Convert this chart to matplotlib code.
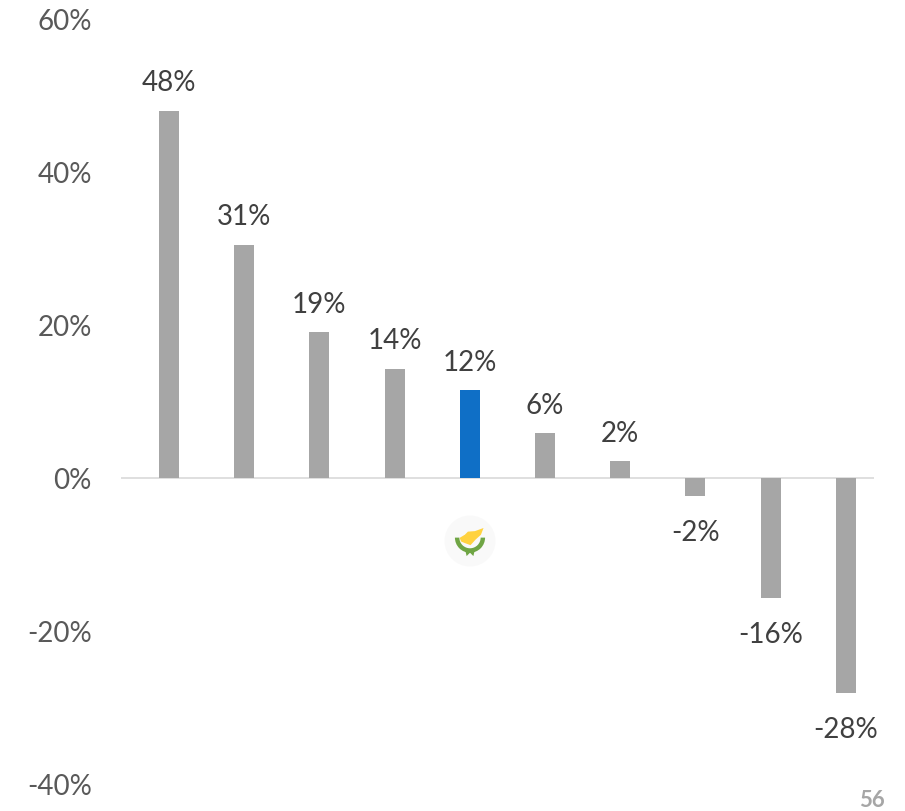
import matplotlib
matplotlib.use("Agg")
import matplotlib.pyplot as plt
from matplotlib.patches import Circle, Polygon, Wedge

plt.rcParams["font.family"] = ["Lato", "DejaVu Sans"]

values = [48.0, 30.5, 19.1, 14.3, 11.5, 5.9, 2.2, -2.3, -15.7, -28.1]
labels = ["48%", "31%", "19%", "14%", "12%", "6%", "2%", "-2%", "-16%", "-28%"]
ticks = [-40, -20, 0, 20, 40, 60]
tick_labels = ["-40%", "-20%", "0%", "20%", "40%", "60%"]
highlight = 4

W, H = 905, 812
fig = plt.figure(figsize=(W / 100, H / 100), dpi=100)
# y: 60% at px 20, -40% at px 785 ; baseline drawn from px 121 to 874
ax = fig.add_axes([121 / W, 1 - 785 / H, (874 - 121) / W, (785 - 20) / H])
ax.set_xlim(-0.638, 9.375)
ax.set_ylim(-40, 60)

colors = ["#0F6FC6" if i == highlight else "#A6A6A6" for i in range(len(values))]
ax.bar(range(len(values)), values, width=0.265, color=colors, zorder=2)

for i, (v, lab) in enumerate(zip(values, labels)):
    if v >= 0:
        ax.text(i, v + 2.0, lab, ha="center", va="bottom", fontsize=20, color="#404040")
    else:
        ax.text(i, v - 3.0, lab, ha="center", va="top", fontsize=20, color="#404040")

for s in ["top", "right", "bottom", "left"]:
    ax.spines[s].set_visible(False)
ax.axhline(0, color="#D9D9D9", lw=1.2, zorder=1)
ax.set_xticks([])
ax.set_yticks(ticks)
ax.set_yticklabels(tick_labels, fontsize=20, color="#595959")
ax.tick_params(axis="y", length=0, pad=21)

# little Cyprus flag badge under the highlighted bar
icon = fig.add_axes([444 / W, 1 - 568 / H, 52 / W, 52 / H])
icon.set_xlim(-1, 1)
icon.set_ylim(-1, 1)
icon.set_aspect("equal")
icon.axis("off")
icon.add_patch(Circle((0, 0), 0.98, color="#F9F9F9", lw=0))
icon.add_patch(Polygon([(-0.40, 0.12), (-0.20, 0.24), (-0.08, 0.36), (0.19, 0.38),
                        (0.52, 0.50), (0.42, 0.24), (0.22, 0.06), (0.02, -0.16),
                        (-0.20, -0.08), (-0.34, -0.02)],
                       color="#FFD23F", lw=0))
icon.add_patch(Wedge((0, 0.13), 0.58, 180, 360, width=0.17, color="#6FA544", lw=0))
icon.add_patch(Polygon([(-0.19, -0.32), (0.19, -0.32), (0.13, -0.58), (0, -0.45),
                        (-0.13, -0.58)], color="#6FA544", lw=0))

fig.text(872 / W, 1 - 801 / H, "56", ha="center", va="center", fontsize=16,
         fontweight="bold", color="#A6A6A6")

fig.savefig("out.png", dpi=100)
